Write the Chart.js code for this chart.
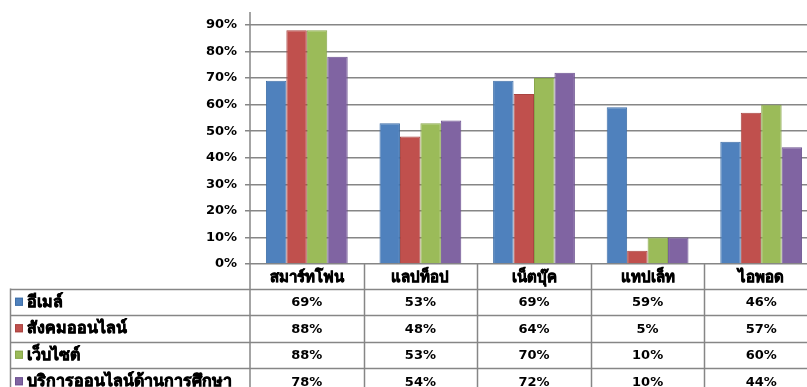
<!DOCTYPE html>
<html>
<head>
<meta charset="utf-8">
<script src="https://cdn.jsdelivr.net/npm/chart.js@4"></script>
<style>
  html, body { margin: 0; padding: 0; background: #fff; overflow: hidden; }
  #wrap { width: 818px; height: 387px; }
</style>
</head>
<body>
<div id="wrap"><canvas id="myChart" width="818" height="387"></canvas></div>
<script>
const devices = ['สมาร์ทโฟน', 'แลปท็อป', 'เน็ตบุ๊ค', 'แทปเล็ท', 'ไอพอด'];
const seriesNames = ['อีเมล์', 'สังคมออนไลน์', 'เว็บไซต์', 'บริการออนไลน์ด้านการศึกษา'];
const emailPct = [69, 53, 69, 59, 46];
const socialPct = [88, 48, 64, 5, 57];
const websitePct = [88, 53, 70, 10, 60];
const eduPct = [78, 54, 72, 10, 44];
const yTicks = [0, 10, 20, 30, 40, 50, 60, 70, 80, 90];

const colors = ['#4F81BD', '#C0504D', '#9BBB59', '#8064A2'];
const borders = ['#3F6FA8', '#A94441', '#88A64B', '#6C5290'];
const allValues = [emailPct, socialPct, websitePct, eduPct];

const FONT = 'Tahoma, "DejaVu Sans", "Noto Sans", sans-serif';
const lineColor = '#868686';

// thai fallback font has no bold face, so thicken it with a stroke
function boldText(ctx, text, x, y) {
    ctx.strokeStyle = '#000';
    ctx.lineWidth = 0.7;
    ctx.strokeText(text, x, y);
    ctx.fillText(text, x, y);
}

// data table drawn under the bars, Excel style
const dataTable = {
    id: 'dataTable',
    afterDraw(chart) {
        const ctx = chart.ctx;
        const area = chart.chartArea;
        const catW = (area.right - area.left) / devices.length;
        const headTop = area.bottom;
        const rowTop = headTop + 24.5;
        const rowH = 26.5;
        const tableLeft = 10.5;
        const bottom = chart.height;

        ctx.save();
        ctx.strokeStyle = lineColor;
        ctx.lineWidth = 1.5;

        // value axis line running down through the table
        ctx.beginPath();
        ctx.moveTo(area.left, 12);
        ctx.lineTo(area.left, bottom);
        ctx.stroke();

        // column separators
        for (let i = 1; i <= devices.length; i++) {
            const x = Math.round(area.left + i * catW) + 0.5;
            ctx.beginPath();
            ctx.moveTo(x, headTop);
            ctx.lineTo(x, bottom);
            ctx.stroke();
        }
        ctx.beginPath();
        ctx.moveTo(tableLeft, rowTop);
        ctx.lineTo(tableLeft, bottom);
        ctx.stroke();

        // row lines
        for (let r = 0; r < seriesNames.length; r++) {
            const y = Math.round(rowTop + r * rowH) + 0.5;
            ctx.beginPath();
            ctx.moveTo(tableLeft, y);
            ctx.lineTo(chart.width, y);
            ctx.stroke();
        }

        ctx.fillStyle = '#000';
        ctx.textBaseline = 'middle';

        // header labels
        ctx.font = 'bold 15px ' + FONT;
        ctx.textAlign = 'center';
        devices.forEach((d, i) => {
            boldText(ctx, d, area.left + (i + 0.5) * catW, headTop + 14);
        });

        // rows: legend key, name, values
        seriesNames.forEach((name, r) => {
            const cy = rowTop + r * rowH + rowH / 2;
            ctx.fillStyle = colors[r];
            ctx.fillRect(15, cy - 4, 8, 8);
            ctx.strokeStyle = borders[r];
            ctx.lineWidth = 1;
            ctx.strokeRect(15.5, cy - 3.5, 7, 7);
            ctx.fillStyle = '#000';
            ctx.textAlign = 'left';
            ctx.font = 'bold 16px ' + FONT;
            boldText(ctx, name, 27, cy + 1);
            ctx.textAlign = 'center';
            ctx.font = 'bold 13px ' + FONT;
            allValues[r].forEach((v, i) => {
                ctx.fillText(v + '%', area.left + (i + 0.5) * catW, cy + 1);
            });
        });
        ctx.restore();
    }
};

const ctx = document.getElementById('myChart').getContext('2d');
const chart = new Chart(ctx, {
    type: 'bar',
    data: {
        labels: devices,
        datasets: seriesNames.map((name, i) => ({
            label: name,
            data: allValues[i],
            backgroundColor: colors[i],
            borderColor: borders[i],
            borderWidth: 1,
            categoryPercentage: 0.72,
            barPercentage: 1
        }))
    },
    options: {
        responsive: false,
        animation: false,
        layout: { padding: { top: 25, bottom: 123, left: 0, right: 0 } },
        plugins: {
            legend: { display: false },
            tooltip: { enabled: false }
        },
        scales: {
            x: {
                display: false
            },
            y: {
                min: 0,
                max: 90,
                afterFit(scale) { scale.width = 250; },
                afterBuildTicks(scale) { scale.ticks = yTicks.map(v => ({ value: v })); },
                border: { display: false },
                grid: { color: lineColor, lineWidth: 1.5, tickLength: 5 },
                ticks: {
                    padding: 8,
                    color: '#000',
                    font: { family: FONT, size: 13, weight: 'bold' },
                    callback: v => v + '%'
                }
            }
        }
    },
    plugins: [dataTable]
});
</script>
</body>
</html>
